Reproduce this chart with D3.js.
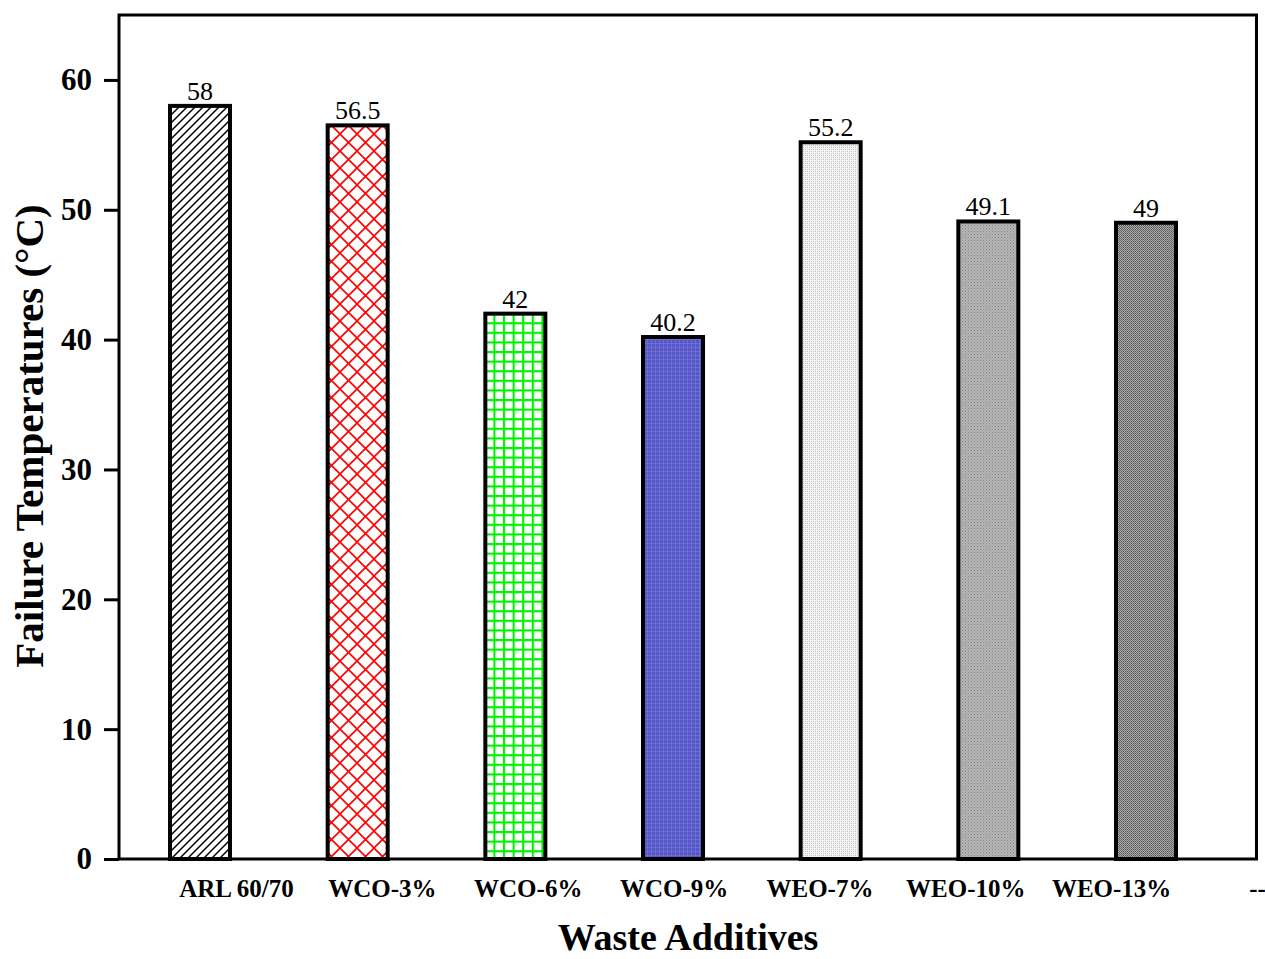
<!DOCTYPE html>
<html>
<head>
<meta charset="utf-8">
<script src="https://cdn.jsdelivr.net/npm/d3@7"></script>
<style>
  body { margin: 0; background: #fff; }
  svg { display: block; }
</style>
</head>
<body>
<svg id="chart"></svg>
<script>
// data
var categories = ["ARL 60/70", "WCO-3%", "WCO-6%", "WCO-9%", "WEO-7%", "WEO-10%", "WEO-13%"];
var values = [58, 56.5, 42, 40.2, 55.2, 49.1, 49];
var valueLabels = ["58", "56.5", "42", "40.2", "55.2", "49.1", "49"];
var tickLabels = ["ARL 60/70", "WCO-3%", "WCO-6%", "WCO-9%", "WEO-7%", "WEO-10%", "WEO-13%", "--"];
var yTicks = [0, 10, 20, 30, 40, 50, 60];

// fill pattern per bar
var patternIds = ["hatch", "redcross", "greengrid", "bluedots", "lightdots", "midgray", "darkgray"];

var svg_width = 1265,
    svg_height = 959;
var margin = {top: 15, right: 8, bottom: 100, left: 119};
var plot_width = svg_width - margin.left - margin.right,
    plot_height = svg_height - margin.top - margin.bottom;

var svg = d3.select("#chart")
    .attr("width", svg_width)
    .attr("height", svg_height);

var serif = "'Liberation Serif', 'Times New Roman', serif";

// patterns
var defs = svg.append("defs");

var p = defs.append("pattern").attr("id", "hatch")
    .attr("patternUnits", "userSpaceOnUse").attr("width", 8).attr("height", 8);
p.append("rect").attr("width", 8).attr("height", 8).attr("fill", "#fff");
p.append("path").attr("d", "M-2,2 l4,-4 M0,8 l8,-8 M6,10 l4,-4")
    .attr("stroke", "#000").attr("stroke-width", 1.5);

p = defs.append("pattern").attr("id", "redcross")
    .attr("patternUnits", "userSpaceOnUse").attr("width", 17).attr("height", 17);
p.append("rect").attr("width", 17).attr("height", 17).attr("fill", "#fff");
p.append("path").attr("d", "M0,0 L17,17 M17,0 L0,17")
    .attr("stroke", "#ff0000").attr("stroke-width", 1.6);

p = defs.append("pattern").attr("id", "greengrid")
    .attr("patternUnits", "userSpaceOnUse").attr("width", 9.6).attr("height", 9.6);
p.append("rect").attr("width", 9.6).attr("height", 9.6).attr("fill", "#fff");
p.append("path").attr("d", "M1,0 V9.6 M0,1 H9.6")
    .attr("stroke", "#00f000").attr("stroke-width", 2.2);

p = defs.append("pattern").attr("id", "bluedots")
    .attr("patternUnits", "userSpaceOnUse").attr("width", 4).attr("height", 4);
p.append("rect").attr("width", 4).attr("height", 4).attr("fill", "#5656c4");
p.append("path").attr("d", "M0,0.5 H4 M0.5,0 V4")
    .attr("stroke", "#6d6dd6").attr("stroke-width", 1);

p = defs.append("pattern").attr("id", "lightdots")
    .attr("patternUnits", "userSpaceOnUse").attr("width", 4).attr("height", 4);
p.append("rect").attr("width", 4).attr("height", 4).attr("fill", "#f2f2f2");
p.append("rect").attr("width", 1).attr("height", 1).attr("fill", "#bdbdbd");
p.append("rect").attr("x", 2).attr("y", 2).attr("width", 1).attr("height", 1).attr("fill", "#bdbdbd");
p.append("rect").attr("x", 0).attr("y", 2).attr("width", 1).attr("height", 1).attr("fill", "#d2d2d2");
p.append("rect").attr("x", 2).attr("y", 0).attr("width", 1).attr("height", 1).attr("fill", "#d2d2d2");

p = defs.append("pattern").attr("id", "midgray")
    .attr("patternUnits", "userSpaceOnUse").attr("width", 3).attr("height", 3);
p.append("rect").attr("width", 3).attr("height", 3).attr("fill", "#b4b4b4");
p.append("rect").attr("width", 1).attr("height", 1).attr("fill", "#888");
p.append("rect").attr("x", 1.5).attr("y", 1.5).attr("width", 1).attr("height", 1).attr("fill", "#999");

p = defs.append("pattern").attr("id", "darkgray")
    .attr("patternUnits", "userSpaceOnUse").attr("width", 2).attr("height", 2);
p.append("rect").attr("width", 2).attr("height", 2).attr("fill", "#a6a6a6");
p.append("rect").attr("width", 1).attr("height", 1).attr("fill", "#5e5e5e");
p.append("rect").attr("x", 1).attr("y", 1).attr("width", 1).attr("height", 1).attr("fill", "#6e6e6e");

var plot = svg.append("g")
    .attr("transform", "translate(" + margin.left + "," + margin.top + ")");

// scales
var y = d3.scaleLinear()
    .domain([0, 65])
    .range([plot_height, 0]);

var x = d3.scalePoint()
    .domain(categories)
    .range([81, 1027]);

var xLabels = d3.scalePoint()
    .domain(tickLabels)
    .range([117, plot_width]);

var barWidth = 60;

// bars
plot.selectAll(".bar")
    .data(values)
    .enter()
    .append("rect")
    .attr("class", "bar")
    .attr("x", (d, i) => x(categories[i]) - barWidth / 2)
    .attr("y", d => y(d))
    .attr("width", barWidth)
    .attr("height", d => y(0) - y(d))
    .attr("fill", (d, i) => "url(#" + patternIds[i] + ")")
    .attr("stroke", "#000")
    .attr("stroke-width", 4);

// value labels
plot.selectAll(".vlabel")
    .data(values)
    .enter()
    .append("text")
    .attr("class", "vlabel")
    .attr("x", (d, i) => x(categories[i]))
    .attr("y", d => y(d) - 6)
    .attr("text-anchor", "middle")
    .style("font-family", serif)
    .style("font-size", "26px")
    .text((d, i) => valueLabels[i]);

// frame
plot.append("rect")
    .attr("x", 0)
    .attr("y", 0)
    .attr("width", plot_width - 0.5)
    .attr("height", plot_height)
    .attr("fill", "none")
    .attr("stroke", "#000")
    .attr("stroke-width", 3);

// y axis
var yAxis = plot.append("g")
    .call(d3.axisLeft(y).tickValues(yTicks).tickSize(15).tickPadding(12).tickFormat(d3.format("d")));
yAxis.select(".domain").remove();
yAxis.selectAll(".tick line").attr("stroke", "#000").attr("stroke-width", 3);
yAxis.selectAll("text")
    .style("font-family", serif)
    .style("font-size", "31px")
    .style("font-weight", "bold")
    .attr("fill", "#000");

// x axis (labels only)
var xAxis = plot.append("g")
    .attr("transform", "translate(0," + plot_height + ")")
    .call(d3.axisBottom(xLabels).tickSize(0).tickPadding(20));
xAxis.select(".domain").remove();
xAxis.selectAll("text")
    .style("font-family", serif)
    .style("font-size", "25px")
    .style("font-weight", "bold")
    .attr("fill", "#000");

// axis titles
svg.append("text")
    .text("Waste Additives")
    .attr("x", 688)
    .attr("y", 950)
    .attr("text-anchor", "middle")
    .style("font-family", serif)
    .style("font-size", "38px")
    .style("font-weight", "bold");

svg.append("text")
    .text("Failure Temperatures (°C)")
    .attr("transform", "translate(43,436) rotate(-90)")
    .attr("text-anchor", "middle")
    .style("font-family", serif)
    .style("font-size", "41px")
    .style("font-weight", "bold");
</script>
</body>
</html>
